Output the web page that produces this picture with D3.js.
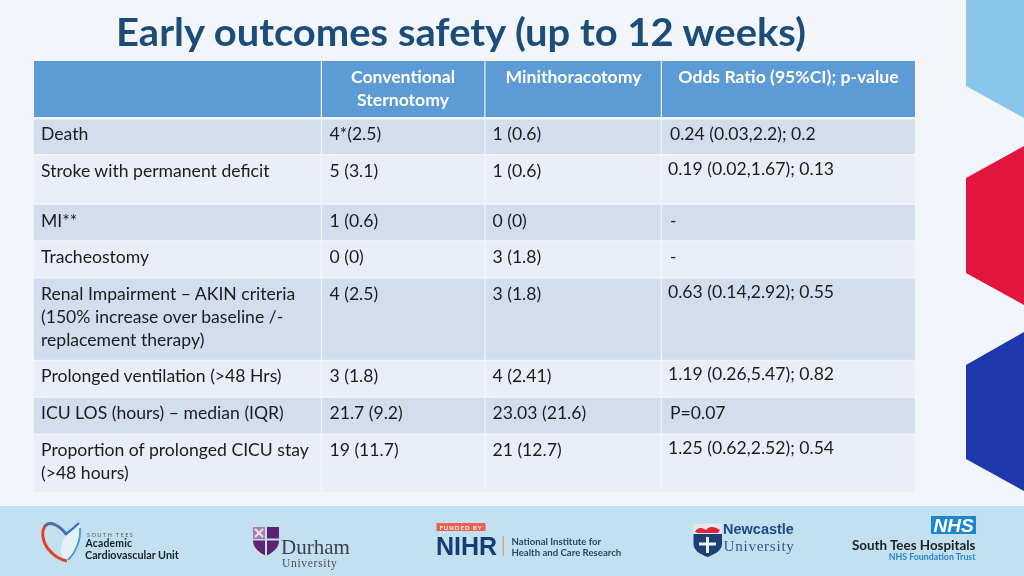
<!DOCTYPE html>
<html><head><meta charset="utf-8">
<script src="https://cdn.jsdelivr.net/npm/d3@7"></script>
<style>html,body{margin:0;padding:0;background:#f2f6fb}svg{display:block}text{font-family:Lato,"Open Sans",sans-serif}</style>
</head><body><svg id="c" width="1024" height="576"></svg>
<script>
const titleText = "Early outcomes safety (up to 12 weeks)";
const headers = [[""],["Conventional","Sternotomy"],["Minithoracotomy"],["Odds Ratio (95%CI); p-value"]];
const outcomes = [["Death"],["Stroke with permanent deficit"],["MI**"],["Tracheostomy"],
 ["Renal Impairment – AKIN criteria","(150% increase over baseline /-","replacement therapy)"],
 ["Prolonged ventilation (>48 Hrs)"],["ICU LOS (hours) – median (IQR)"],
 ["Proportion of prolonged CICU stay","(>48 hours)"]];
const conventional = ["4*(2.5)","5 (3.1)","1 (0.6)","0 (0)","4 (2.5)","3 (1.8)","21.7 (9.2)","19 (11.7)"];
const minithoracotomy = ["1 (0.6)","1 (0.6)","0 (0)","3 (1.8)","3 (1.8)","4 (2.41)","23.03 (21.6)","21 (12.7)"];
const oddsRatio = ["0.24 (0.03,2.2); 0.2","0.19 (0.02,1.67); 0.13","-","-","0.63 (0.14,2.92); 0.55","1.19 (0.26,5.47); 0.82","P=0.07","1.25 (0.62,2.52); 0.54"];
const orRaised = [false,true,false,false,true,true,false,true];
const colEdges = [34,322,485.5,662,915];
const rowEdges = [61,119.5,155.2,204.8,241.4,278.6,361,397.8,434.6,492];

const svg = d3.select("#c");
svg.append("defs").append("filter").attr("id","soft").append("feGaussianBlur").attr("stdDeviation",0.35);
const root = svg.append("g").attr("filter","url(#soft)");
root.append("rect").attr("width",1024).attr("height",576).attr("fill","#f2f6fb");

const line = d3.line();
[[[966,0],[1024,0],[1024,118],[966,86]],
 [[966,178],[1024,146],[1024,305],[966,273]],
 [[966,365],[1024,332],[1024,491],[966,459]]].forEach((p,i)=>
  root.append("path").attr("d",line(p)+"Z").attr("fill",["#8ac6ec","#e2183c","#1a37ab"][i]));

root.append("text").attr("x",116).attr("y",46).attr("font-size",39).attr("font-weight",700)
  .attr("fill","#1f4e79").attr("textLength",690).attr("lengthAdjust","spacingAndGlyphs").text(titleText);

const nCols = colEdges.length-1, nRows = rowEdges.length-1;
const cols = d3.range(nCols), rows = d3.range(nRows);
rows.forEach(r=>cols.forEach(c=>{
  root.append("rect").attr("x",colEdges[c]).attr("y",rowEdges[r])
    .attr("width",colEdges[c+1]-colEdges[c]-(c<nCols-1?1.2:0))
    .attr("height",rowEdges[r+1]-rowEdges[r]-(r===0?2.5:(r<nRows-1?1.2:0)))
    .attr("fill",r===0?"#5b9bd5":(r%2===1?"#d2deed":"#eaeef8"));
}));
const hAnchor = [0,403,573.5,788.5];
headers.forEach((h,c)=>h.forEach((t,i)=>{
  root.append("text").attr("x",hAnchor[c]).attr("y",83+i*23).attr("text-anchor","middle")
    .attr("font-size",17.6).attr("font-weight",700).attr("fill","#ffffff").text(t);
}));
const lineH = 23;
function cell(x,y,t){root.append("text").attr("x",x).attr("y",y).attr("font-size",17.6).attr("fill","#1c1c1c").text(t);}
const baseY = [140,177,227,263,300,382,419,456];
outcomes.forEach((o,r)=>{
  o.forEach((t,i)=>cell(41,baseY[r]+i*lineH,t));
  cell(329.5,baseY[r],conventional[r]);
  cell(492.5,baseY[r],minithoracotomy[r]);
  cell(orRaised[r]?668:670,baseY[r]-(orRaised[r]?2:0),oddsRatio[r]);
});

root.append("rect").attr("y",506).attr("width",1024).attr("height",70).attr("fill","#c3e0f0");

function ft(x,y,s,t,o={}){return root.append("text").attr("x",x).attr("y",y).attr("font-size",s)
  .attr("font-weight",o.w||400).attr("fill",o.f||"#1c2b3a").attr("text-anchor",o.a||"start")
  .style("font-family",o.ff||null).style("letter-spacing",o.ls||null).text(t);}
// heart
root.append("path").attr("d","M67 533 L80 523 C82 538 78 552 67 561 C58 556 60 545 67 533Z").attr("fill","#e6f0f6");
root.append("path").attr("d","M66 534 C60 526 50 520 45 526 C40 534 44 546 52 553 C57 558 62 560 67 561").attr("fill","none").attr("stroke","#e0402a").attr("stroke-width",3);
root.append("path").attr("d","M45 526 C50 520 60 526 66 534 C70 531 75 527 79 523").attr("fill","none").attr("stroke","#2a78c8").attr("stroke-width",2.4);
root.append("path").attr("d","M80 528 C81 540 76 552 68 560").attr("fill","none").attr("stroke","#3a9bdc").attr("stroke-width",1.8);
ft(87,536.5,5.6,"SOUTH TEES",{f:"#4a5a68",ls:"1.4px"});
ft(85.5,546.5,10.4,"Academic",{w:700,f:"#15202b",ls:"0.2px"});
ft(85,558.5,10.8,"Cardiovascular Unit",{w:700,f:"#15202b"});
// Durham
root.append("path").attr("d","M253 527 H279 V541 C279 548 272 553 266 556 C260 553 253 548 253 541Z").attr("fill","#5f2170");
root.append("rect").attr("x",253).attr("y",538.5).attr("width",26).attr("height",2).attr("fill","#c3e0f0");
root.append("rect").attr("x",265).attr("y",527).attr("width",2).attr("height",29).attr("fill","#c3e0f0");
root.append("rect").attr("x",253).attr("y",527).attr("width",12).attr("height",11.5).attr("fill","#a77fb0");
root.append("path").attr("d","M255 529 L263 537 M263 529 L255 537").attr("stroke","#e8e0ec").attr("stroke-width",2);
ft(281,553.5,21,"Durham",{f:"#3a3f52",ff:"'Liberation Serif',serif"});
ft(282,567,11.5,"University",{f:"#4a5060",ff:"'Liberation Serif',serif",ls:"0.7px"});
// NIHR
root.append("rect").attr("x",436.5).attr("y",523).attr("width",49).attr("height",8).attr("fill","#e8604f");
ft(461,529.5,6,"FUNDED BY",{f:"#fff",a:"middle",ls:"1px",w:700});
ft(436,555,25,"NIHR",{w:900,f:"#193e72",ff:"'Liberation Sans',sans-serif"});
root.append("rect").attr("x",502.5).attr("y",536).attr("width",1.5).attr("height",20).attr("fill","#e8a090");
ft(511.5,545,9.6,"National Institute for",{f:"#2a4568",w:700});
ft(511.5,556,9.6,"Health and Care Research",{f:"#2a4568",w:700});
// Newcastle
root.append("rect").attr("x",693.5).attr("y",524).attr("width",28).attr("height",10).attr("fill","#e9e6e6");
root.append("path").attr("d","M695 532 C698 526 703 528 706 530 C709 526 714 526 720 530 L718 533 H698Z").attr("fill","#d9263a");
root.append("path").attr("d","M693.5 534 H722 V544 C722 551 713 555 707.5 557 C702 555 693.5 551 693.5 544Z").attr("fill","#1b3f73");
root.append("path").attr("d","M707.5 537 V553 M699 544 H716").attr("stroke","#eef4f8").attr("stroke-width",3);
ft(723,534,14.5,"Newcastle",{w:700,f:"#1c4a85",ff:"'Liberation Sans',sans-serif"});
ft(723.5,551,15.2,"University",{f:"#2f5a8f",ff:"'Liberation Serif',serif",ls:"0.7px"});
// NHS
root.append("rect").attr("x",931).attr("y",516).attr("width",45).attr("height",18).attr("fill","#1b87d0");
ft(953.5,532,19,"NHS",{w:700,f:"#fff",a:"middle",ff:"'Liberation Sans',sans-serif"}).style("font-style","italic");
ft(975.5,549.5,13.4,"South Tees Hospitals",{w:700,f:"#1a1f24",a:"end"});
ft(975.5,560,8.8,"NHS Foundation Trust",{w:700,f:"#2f83c8",a:"end"});
</script></body></html>
